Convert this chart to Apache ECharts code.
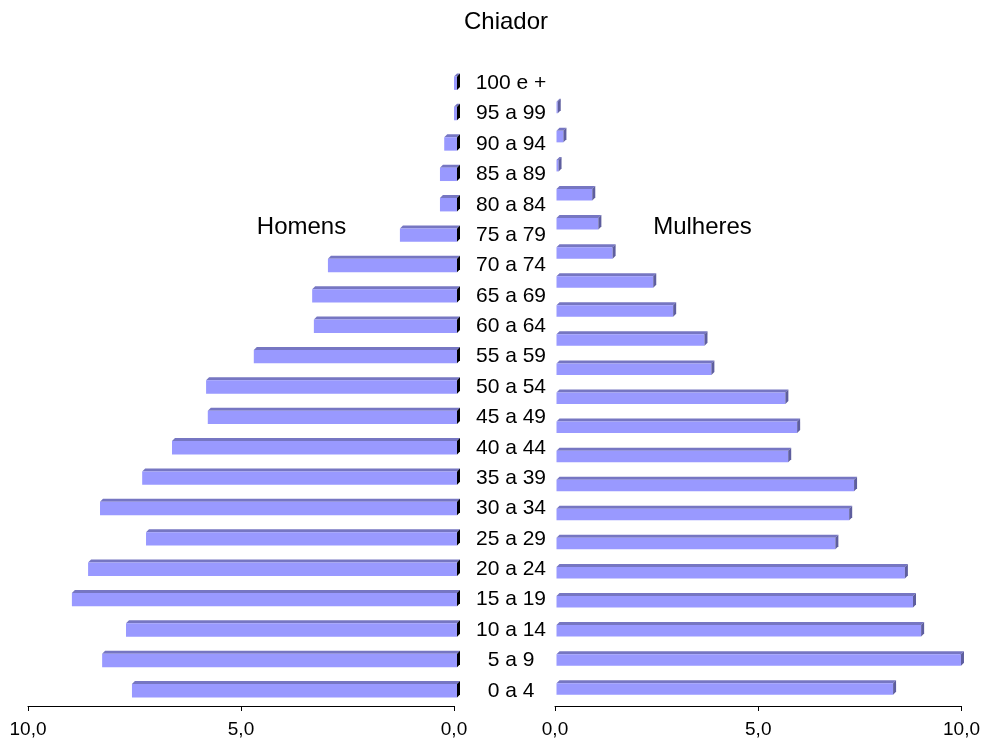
<!DOCTYPE html>
<html>
<head>
<meta charset="utf-8">
<script src="https://cdn.jsdelivr.net/npm/echarts@6/dist/echarts.min.js"></script>
<style>
  html, body { margin: 0; padding: 0; background: #fff; }
  #chart { width: 983px; height: 743px; }
</style>
</head>
<body>
<div id="chart"></div>
<script>
// Age groups, bottom to top
const categories = ['0 a 4', '5 a 9', '10 a 14', '15 a 19', '20 a 24', '25 a 29', '30 a 34',
  '35 a 39', '40 a 44', '45 a 49', '50 a 54', '55 a 59', '60 a 64', '65 a 69', '70 a 74',
  '75 a 79', '80 a 84', '85 a 89', '90 a 94', '95 a 99', '100 e +'];

// Share of population (%) per age group
const homens = [7.63, 8.33, 7.77, 9.04, 8.66, 7.30, 8.38, 7.39, 6.69, 5.85, 5.89,
  4.77, 3.36, 3.40, 3.03, 1.34, 0.40, 0.40, 0.30, 0.07, 0.07];
const mulheres = [8.28, 9.95, 8.97, 8.77, 8.57, 6.86, 7.20, 7.32, 5.70, 5.92, 5.63,
  3.81, 3.64, 2.87, 2.38, 1.38, 1.03, 0.88, 0.05, 0.17, 0.03];

const axisTicks = { min: 0, max: 10, interval: 5 };

const FONT = '"Liberation Sans", Arial, sans-serif';
const FRONT = '#9999FF';
const TOP = '#7676C2';
const SIDE_R = '#5E5E9E';
const SIDE_L = '#000000';
const DEPTH = 3;

const fmt = v => v.toFixed(1).replace('.', ',');

// 3D-looking horizontal bar: front face, top face, and end face at the right edge
function bar3d(frontH, shift, sideColor, sideAtZero) {
  return function (params, api) {
    const v = api.value(0);
    const c = api.value(1);
    const p0 = api.coord([0, c]);
    const p1 = api.coord([v, c]);
    const xa = Math.min(p0[0], p1[0]) + shift;
    const xb = Math.max(p0[0], p1[0]) + shift;
    const yt = p0[1] - frontH / 2;
    const yb = p0[1] + frontH / 2;
    const d = DEPTH;
    return {
      type: 'group',
      children: [
        { type: 'polygon', shape: { points: [[xa, yt], [xb, yt], [xb + d, yt - d], [xa + d, yt - d]] },
          style: { fill: TOP } },
        { type: 'rect', shape: { x: xa, y: yt, width: xb - xa, height: yb - yt },
          style: { fill: FRONT } },
        { type: 'polygon', shape: { points: [[xb, yt], [xb + d, yt - d], [xb + d, yb - d], [xb, yb]] },
          style: { fill: sideColor } }
      ]
    };
  };
}

const chart = echarts.init(document.getElementById('chart'), null, { renderer: 'canvas' });

const xAxisCommon = {
  type: 'value',
  min: axisTicks.min, max: axisTicks.max, interval: axisTicks.interval,
  axisLine: { show: true, lineStyle: { color: '#000', width: 1 } },
  axisTick: { show: true, inside: false, length: 5, lineStyle: { color: '#000' } },
  axisLabel: { color: '#000', fontSize: 19, fontFamily: FONT, margin: 14, formatter: fmt },
  splitLine: { show: false }
};

chart.setOption({
  animation: false,
  backgroundColor: '#fff',
  grid: [
    { left: 28, right: 529, top: 68, bottom: 37 },
    { left: 555, right: 21, top: 93, bottom: 39.5 }
  ],
  xAxis: [
    Object.assign({}, xAxisCommon, { gridIndex: 0, inverse: true }),
    Object.assign({}, xAxisCommon, { gridIndex: 1, offset: 2.5 })
  ],
  yAxis: [
    { type: 'category', gridIndex: 0, data: categories, position: 'right',
      axisLine: { show: false }, axisTick: { show: false }, splitLine: { show: false },
      axisLabel: { color: '#000', fontSize: 21, fontFamily: FONT, margin: 57, align: 'center' } },
    { type: 'category', gridIndex: 1, data: categories, show: false }
  ],
  series: [
    { type: 'custom', name: 'Homens', xAxisIndex: 0, yAxisIndex: 0,
      renderItem: bar3d(13.4, 3, SIDE_L),
      encode: { x: 0, y: 1 },
      data: homens.map((v, i) => [v, i]) },
    { type: 'custom', name: 'Mulheres', xAxisIndex: 1, yAxisIndex: 1,
      renderItem: bar3d(11.5, 1.5, SIDE_R),
      encode: { x: 0, y: 1 },
      data: mulheres.map((v, i) => [v, i]) }
  ],
  graphic: [
    { type: 'text', left: 0, top: 0, style: { text: '' } },
    { type: 'text', x: 506, y: 22.5,
      style: { text: 'Chiador', fill: '#000', font: '24px ' + FONT, textAlign: 'center', textVerticalAlign: 'middle' } },
    { type: 'text', x: 301.5, y: 227,
      style: { text: 'Homens', fill: '#000', font: '24px ' + FONT, textAlign: 'center', textVerticalAlign: 'middle' } },
    { type: 'text', x: 702.5, y: 227,
      style: { text: 'Mulheres', fill: '#000', font: '24px ' + FONT, textAlign: 'center', textVerticalAlign: 'middle' } }
  ]
});
</script>
</body>
</html>
